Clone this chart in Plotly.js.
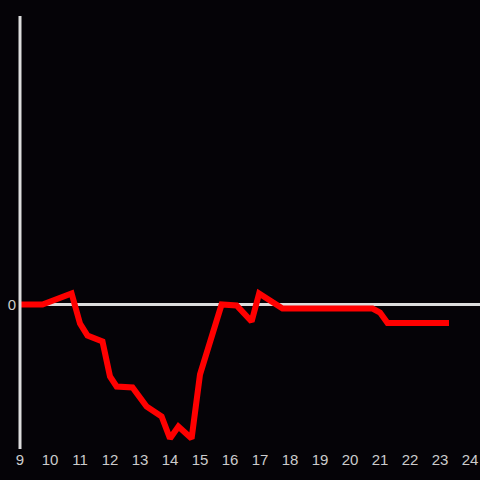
<!DOCTYPE html>
<html>
<head>
<meta charset="utf-8">
<script src="https://cdn.plot.ly/plotly-3.0.1.min.js"></script>
<style>html,body{margin:0;padding:0;background:#050307;}#chart{width:480px;height:480px;}</style>
</head>
<body>
<div id="chart"></div>
<script>
const hours = [9, 9.75, 10.72, 11.0, 11.25, 11.75, 12.0, 12.22, 12.75, 13.22, 13.72, 14.0, 14.28, 14.72, 15.0, 15.72, 16.22, 16.72, 16.97, 17.75, 20.75, 21.0, 21.25, 23.3];
const values = [0, 0, 11, -19, -31, -37, -72, -82, -83, -102, -112, -134, -122, -134, -70, 0, -1, -17, 11, -4, -4, -8, -18.5, -18.5];
const xTicks = [9,10,11,12,13,14,15,16,17,18,19,20,21,22,23,24];

Plotly.newPlot('chart', [{
  x: hours, y: values, type: 'scatter', mode: 'lines',
  line: {color: '#ff0000', width: 6},
  hoverinfo: 'none'
}], {
  width: 480, height: 480,
  margin: {l: 20, r: 0, t: 16, b: 31},
  paper_bgcolor: '#050307', plot_bgcolor: '#050307',
  showlegend: false,
  font: {family: '"Liberation Sans", Arial, sans-serif', size: 15, color: '#cccccc'},
  xaxis: {range: [9, 24.333], tickvals: xTicks, ticktext: xTicks.map(String), showgrid: false, zeroline: false, showline: false, ticks: '', fixedrange: true},
  yaxis: {range: [-144.5, 288.5], tickvals: [0], ticktext: ['0'], showgrid: false, zeroline: true, zerolinecolor: '#dddddd', zerolinewidth: 3, showline: false, ticks: '', ticklabelstandoff: 3, fixedrange: true},
  shapes: [{type: 'line', xref: 'paper', yref: 'paper', x0: 0, x1: 0, y0: 0, y1: 1, line: {color: '#dddddd', width: 3}, layer: 'above'}]
}, {displayModeBar: false, staticPlot: true});
</script>
</body>
</html>
